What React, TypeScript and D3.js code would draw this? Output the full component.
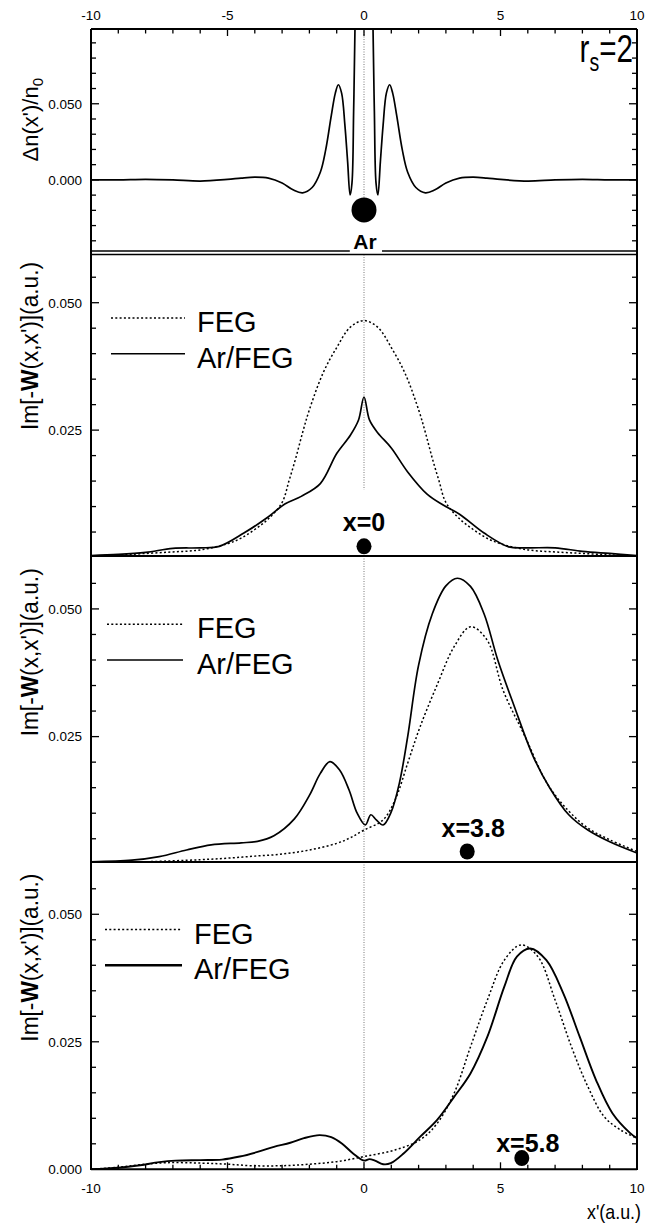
import React, { useEffect, useRef } from "react";
import * as d3 from "d3";

const width = 657;
const height = 1226;

// induced density around Ar, dn(x')/n0
const dnX = [-10, -9, -8, -7, -6, -5, -4.5, -4, -3.5, -3, -2.6, -2.25, -1.9, -1.6, -1.4, -1.2, -1.05, -0.94, -0.82, -0.7, -0.6, -0.51, -0.44, -0.38, -0.33, -0.28, 0, 0.28, 0.33, 0.38, 0.44, 0.51, 0.6, 0.7, 0.82, 0.94, 1.05, 1.2, 1.4, 1.6, 1.9, 2.25, 2.6, 3, 3.5, 4, 4.5, 5, 6, 7, 8, 9, 10];
const dnY = [0, 0, 0.0004, 0, -0.0008, 0.0003, 0.0012, 0.0018, 0.0012, -0.002, -0.0065, -0.0085, -0.005, 0.005, 0.02, 0.042, 0.057, 0.0625, 0.057, 0.036, 0.012, -0.0099, -0.002, 0.045, 0.1, 0.2, 0.6, 0.2, 0.1, 0.045, -0.002, -0.0099, 0.012, 0.036, 0.057, 0.0625, 0.057, 0.042, 0.02, 0.005, -0.005, -0.0085, -0.0065, -0.002, 0.0012, 0.0018, 0.0012, 0.0003, -0.0008, 0, 0.0004, 0, 0];

// x = 0
const feg0X = [-10, -9, -8, -7, -6, -5, -4.5, -4, -3.5, -3, -2.75, -2.5, -2.25, -2, -1.5, -1, -0.5, 0, 0.5, 1, 1.5, 2, 2.25, 2.5, 2.75, 3, 3.5, 4, 4.5, 5, 6, 7, 8, 9, 10];
const feg0Y = [0.0003, 0.0005, 0.0008, 0.0011, 0.0015, 0.0027, 0.0038, 0.0055, 0.0076, 0.0108, 0.015, 0.0195, 0.0245, 0.029, 0.0362, 0.0412, 0.0452, 0.0465, 0.0452, 0.0412, 0.0362, 0.029, 0.0245, 0.0195, 0.015, 0.0108, 0.0076, 0.0055, 0.0038, 0.0027, 0.0015, 0.0011, 0.0008, 0.0005, 0.0003];
const ar0X = [-10, -9, -8, -7, -6, -5.3, -4.4, -3.5, -2.9, -2.3, -1.6, -1.0, -0.5, -0.2, 0, 0.2, 0.5, 1.0, 1.6, 2.3, 2.9, 3.5, 4.4, 5.3, 6, 7, 8, 9, 10];
const ar0Y = [0.0004, 0.0006, 0.001, 0.0018, 0.0019, 0.0022, 0.0048, 0.008, 0.0105, 0.012, 0.0145, 0.0204, 0.024, 0.027, 0.0315, 0.027, 0.0245, 0.0215, 0.0168, 0.0125, 0.0103, 0.0085, 0.0048, 0.0021, 0.0019, 0.0019, 0.0012, 0.0008, 0.0004];

// x = 3.8
const fegAX = [-10, -8, -6, -5, -4, -3, -2, -1, -0.5, 0, 0.7, 1.14, 1.6, 2.06, 2.7, 3.3, 3.9, 4.5, 5.1, 5.9, 6.7, 7.45, 8.2, 9, 10];
const fegAY = [0.0003, 0.0005, 0.0009, 0.0012, 0.0016, 0.002, 0.0028, 0.0041, 0.0052, 0.0067, 0.0087, 0.0126, 0.0198, 0.027, 0.0354, 0.0426, 0.0465, 0.044, 0.034, 0.025, 0.0159, 0.0107, 0.0071, 0.0048, 0.0025];
const arAX = [-10, -8.5, -7.5, -6.5, -5.6, -4.5, -3.9, -3.3, -2.55, -2, -1.6, -1.25, -0.9, -0.55, -0.25, 0.05, 0.25, 0.45, 0.7, 1.0, 1.3, 1.6, 2.0, 2.5, 3.0, 3.42, 3.9, 4.4, 4.9, 5.5, 6.2, 6.8, 7.5, 8.2, 9, 10];
const arAY = [0.0005, 0.0008, 0.0015, 0.0028, 0.0038, 0.0042, 0.0045, 0.0056, 0.0089, 0.0135, 0.0178, 0.0201, 0.0185, 0.0146, 0.01, 0.0077, 0.0097, 0.0087, 0.0077, 0.0103, 0.016, 0.025, 0.039, 0.049, 0.0545, 0.056, 0.0544, 0.049, 0.04, 0.031, 0.0211, 0.015, 0.0097, 0.0067, 0.0044, 0.0022];

// x = 5.8
const fegBX = [-10, -9, -8.2, -7.2, -5.9, -5, -4.1, -3, -2, -1, 0, 1.14, 2.06, 2.68, 3.3, 3.9, 4.52, 5.14, 5.75, 6.37, 7.0, 7.6, 8.2, 8.8, 9.4, 10];
const fegBY = [0, 0.0004, 0.0009, 0.0013, 0.0012, 0.001, 0.0007, 0.0007, 0.001, 0.0015, 0.0025, 0.0038, 0.0058, 0.009, 0.0149, 0.024, 0.0332, 0.041, 0.044, 0.0417, 0.0332, 0.024, 0.0162, 0.0103, 0.0077, 0.0061];
const arBX = [-10, -9, -8.2, -7.5, -6.9, -6, -5.2, -4.55, -3.9, -3.3, -2.7, -2.2, -1.63, -1.2, -0.8, -0.4, 0, 0.2, 0.4, 0.7, 0.98, 1.45, 2.06, 2.68, 3.3, 3.9, 4.52, 5.14, 5.6, 6.09, 6.68, 7.3, 7.9, 8.5, 9.1, 9.75, 10];
const arBY = [0, 0.0003, 0.0008, 0.0014, 0.0017, 0.0018, 0.0019, 0.0025, 0.0034, 0.0044, 0.0052, 0.0061, 0.0067, 0.0063, 0.005, 0.0031, 0.0017, 0.002, 0.0017, 0.001, 0.0012, 0.0031, 0.0064, 0.0097, 0.0142, 0.0188, 0.026, 0.0358, 0.0417, 0.0433, 0.041, 0.0345, 0.026, 0.0175, 0.011, 0.0071, 0.0061];

const xTickLabels = [-10, -5, 0, 5, 10];
const legendNames = ["FEG", "Ar/FEG"];
const markerLabels = ["x=0", "x=3.8", "x=5.8"];

const font = '"Liberation Sans", Arial, Helvetica, sans-serif';

const App = () => {
  const svgRef = useRef(null);

  useEffect(() => {
    const svg = d3.select(svgRef.current);
    svg.selectAll("*").remove();

    const x = d3.scaleLinear().domain([-10, 10]).range([91, 637]);
    const left = 91;
    const right = 637;

    const zip = (xs, ys) => xs.map((v, i) => [v, ys[i]]);

    const panels = [
      {
        top: 29, bottom: 251, domain: [-0.0467, 0.0991],
        minor: d3.range(-4, 10).map((d) => d / 100),
        major: [0, 0.05],
        labels: [0, 0.05],
        series: [{ data: zip(dnX, dnY), dotted: false }],
      },
      {
        top: 254.5, bottom: 556, domain: [0.0003, 0.05946],
        minor: d3.range(1, 12).map((d) => d * 0.005),
        major: [0.025, 0.05],
        labels: [0.025, 0.05],
        series: [
          { data: zip(feg0X, feg0Y), dotted: true },
          { data: zip(ar0X, ar0Y), dotted: false },
        ],
        legendX: [111, 185, 197],
        marker: 0,
      },
      {
        top: 556, bottom: 862, domain: [0.00045, 0.06036],
        minor: d3.range(1, 12).map((d) => d * 0.005),
        major: [0.025, 0.05],
        labels: [0.025, 0.05],
        series: [
          { data: zip(fegAX, fegAY), dotted: true },
          { data: zip(arAX, arAY), dotted: false },
        ],
        legendX: [107, 183, 197],
        marker: 1,
      },
      {
        top: 862, bottom: 1169.3, domain: [0, 0.06025],
        minor: d3.range(1, 12).map((d) => d * 0.005),
        major: [0.025, 0.05],
        labels: [0, 0.025, 0.05],
        series: [
          { data: zip(fegBX, fegBY), dotted: true },
          { data: zip(arBX, arBY), dotted: false },
        ],
        legendX: [105, 182, 194],
        marker: 2,
        thick: true,
      },
    ];

    const defs = svg.append("defs");

    panels.forEach((p, i) => {
      const y = d3.scaleLinear().domain(p.domain).range([p.bottom, p.top]);
      const g = svg.append("g");

      defs
        .append("clipPath")
        .attr("id", "clip" + i)
        .append("rect")
        .attr("x", left)
        .attr("y", p.top)
        .attr("width", right - left)
        .attr("height", p.bottom - p.top);

      // vertical dotted line through x' = 0
      let gridEnd = p.bottom;
      if (i === 0) gridEnd = y(-0.012);
      if (i === 1) gridEnd = y(0.0133);
      g.append("line")
        .attr("x1", x(0)).attr("x2", x(0))
        .attr("y1", p.top).attr("y2", gridEnd)
        .attr("stroke", "#555")
        .attr("stroke-width", 0.8)
        .attr("stroke-dasharray", "1,1.5");

      const line = d3
        .line()
        .x((d) => x(d[0]))
        .y((d) => y(d[1]))
        .curve(d3.curveCatmullRom.alpha(0.5));

      p.series.forEach((s) => {
        g.append("path")
          .attr("d", line(s.data))
          .attr("clip-path", `url(#clip${i})`)
          .attr("fill", "none")
          .attr("stroke", "#000")
          .attr("stroke-width", s.dotted ? 1.5 : p.thick ? 1.9 : 1.7)
          .attr("stroke-dasharray", s.dotted ? "2,2.3" : null);
      });

      // y ticks, inside on both sides
      p.minor.forEach((v) => {
        const isMajor = p.major.some((m) => Math.abs(m - v) < 1e-9);
        const len = isMajor ? 8 : 5;
        g.append("line")
          .attr("x1", left).attr("x2", left + len)
          .attr("y1", y(v)).attr("y2", y(v))
          .attr("stroke", "#000").attr("stroke-width", 1.3);
        g.append("line")
          .attr("x1", right).attr("x2", right - len)
          .attr("y1", y(v)).attr("y2", y(v))
          .attr("stroke", "#000").attr("stroke-width", 1.3);
      });

      p.labels.forEach((v) => {
        g.append("text")
          .attr("x", 82)
          .attr("y", y(v))
          .attr("dy", "0.36em")
          .attr("text-anchor", "end")
          .attr("font-family", font)
          .attr("font-size", 13.5)
          .text(d3.format(".3f")(v));
      });

      // y axis title
      if (i === 0) {
        const t = g.append("text")
          .attr("transform", `translate(38,${y(0.0395)}) rotate(-90)`)
          .attr("text-anchor", "middle")
          .attr("font-family", font)
          .attr("font-size", 22);
        t.append("tspan").text("\u0394n(x')/n");
        t.append("tspan").attr("font-size", 15).attr("dy", 5).text("0");
      } else {
        const t = g.append("text")
          .attr("transform", `translate(38,${y(0.0415)}) rotate(-90)`)
          .attr("text-anchor", "middle")
          .attr("font-family", font)
          .attr("font-size", 23.5)
          .attr("textLength", 168)
          .attr("lengthAdjust", "spacingAndGlyphs");
        t.append("tspan").text("Im[-");
        t.append("tspan").attr("font-weight", "bold").text("W");
        t.append("tspan").text("(x,x')](a.u.)");
      }

      // legend
      if (p.legendX) {
        const [lx0, lx1, tx] = p.legendX;
        [0.047, 0.04].forEach((v, k) => {
          g.append("line")
            .attr("x1", lx0).attr("x2", lx1)
            .attr("y1", y(v)).attr("y2", y(v))
            .attr("stroke", "#000")
            .attr("stroke-width", k === 0 ? 1.5 : p.thick ? 2.4 : 1.5)
            .attr("stroke-dasharray", k === 0 ? "2,2.3" : null);
          g.append("text")
            .attr("x", tx)
            .attr("y", y(v) + 14)
            .attr("font-family", font)
            .attr("font-size", 29)
            .text(legendNames[k]);
        });
      }

      // electron position marker
      if (p.marker !== undefined) {
        const m = p.marker;
        const labelY = [0.00705, 0.00705, 0.0051][m];
        const labelX = [0, 4.0, 6.0][m];
        const dotY = [0.0022, 0.0025, 0.0022][m];
        const dotX = [0, 3.78, 5.78][m];
        g.append("text")
          .attr("x", x(labelX))
          .attr("y", y(labelY))
          .attr("dy", "0.36em")
          .attr("text-anchor", "middle")
          .attr("font-family", font)
          .attr("font-weight", "bold")
          .attr("font-size", 25)
          .text(markerLabels[m]);
        g.append("ellipse")
          .attr("cx", x(dotX))
          .attr("cy", y(dotY))
          .attr("rx", 7.5)
          .attr("ry", 8)
          .attr("fill", "#000");
      }

      if (i === 0) {
        // Ar atom
        g.append("ellipse")
          .attr("cx", x(0))
          .attr("cy", y(-0.0197))
          .attr("rx", 12.5)
          .attr("ry", 12.5)
          .attr("fill", "#000");
      }
    });

    // frame
    const frame = svg.append("g").attr("stroke", "#000").attr("fill", "none");
    frame.append("line").attr("x1", left).attr("x2", left).attr("y1", 29).attr("y2", 1170).attr("stroke-width", 2);
    frame.append("line").attr("x1", right).attr("x2", right).attr("y1", 29).attr("y2", 1170).attr("stroke-width", 2);
    [29, 251, 254.5, 556, 862, 1169.3].forEach((yy) => {
      frame.append("line").attr("x1", left).attr("x2", right).attr("y1", yy).attr("y2", yy).attr("stroke-width", yy === 251 || yy === 254.5 ? 1.4 : 2);
    });

    // Ar label with white gap in the frame
    svg.append("rect")
      .attr("x", x(-0.52)).attr("y", 230)
      .attr("width", x(0.66) - x(-0.52)).attr("height", 22.5)
      .attr("fill", "#fff");
    svg.append("text")
      .attr("x", x(0) + 1)
      .attr("y", 249)
      .attr("text-anchor", "middle")
      .attr("font-family", font)
      .attr("font-weight", "bold")
      .attr("font-size", 21)
      .text("Ar");

    // x ticks: top of first panel, bottom of last panel
    d3.range(-9, 10).forEach((v) => {
      const len = v % 5 === 0 ? 7 : 4.5;
      frame.append("line").attr("x1", x(v)).attr("x2", x(v)).attr("y1", 29).attr("y2", 29 + len).attr("stroke-width", 1.3);
      frame.append("line").attr("x1", x(v)).attr("x2", x(v)).attr("y1", 1169.3).attr("y2", 1169.3 - len).attr("stroke-width", 1.3);
    });
    xTickLabels.forEach((v) => {
      svg.append("text")
        .attr("x", x(v)).attr("y", 20)
        .attr("text-anchor", "middle")
        .attr("font-family", font).attr("font-size", 13.5)
        .text(v);
      svg.append("text")
        .attr("x", x(v)).attr("y", 1193)
        .attr("text-anchor", "middle")
        .attr("font-family", font).attr("font-size", 13.5)
        .text(v);
    });

    svg.append("text")
      .attr("transform", "translate(641,1219) scale(0.85,1)")
      .attr("text-anchor", "end")
      .attr("font-family", font).attr("font-size", 21)
      .text("x'(a.u.)");

    // r_s = 2
    const rs = svg.append("text")
      .attr("transform", "translate(633,62) scale(0.78,1)")
      .attr("text-anchor", "end")
      .attr("font-family", font).attr("font-size", 38);
    rs.append("tspan").text("r");
    rs.append("tspan").attr("font-size", 25).attr("dy", 9).text("s");
    rs.append("tspan").attr("dy", -9).text("=2");
  }, []);

  return (
    <svg
      ref={svgRef}
      width={width}
      height={height}
      style={{ position: "absolute", left: 0, top: 0, background: "#fff" }}
    ></svg>
  );
};

export default App;
